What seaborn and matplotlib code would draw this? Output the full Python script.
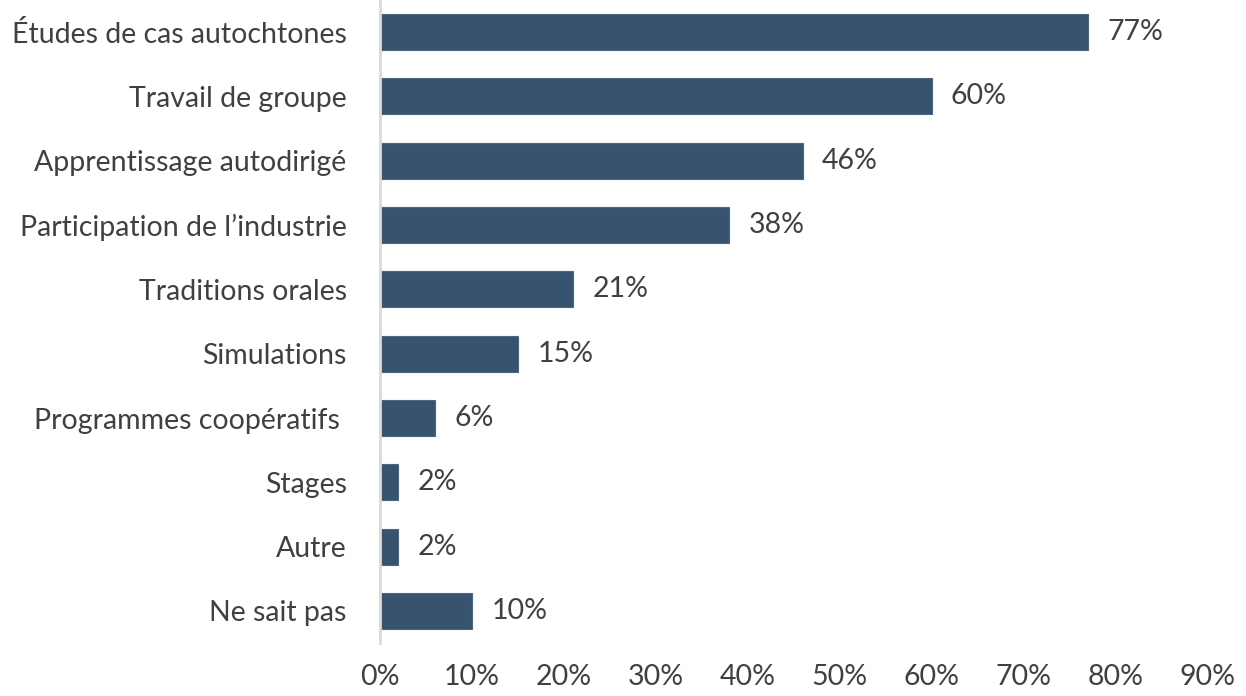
import matplotlib
matplotlib.use("Agg")
import matplotlib.pyplot as plt
import seaborn as sns
import pandas as pd

categories = [
    "Études de cas autochtones",
    "Travail de groupe",
    "Apprentissage autodirigé",
    "Participation de l\u2019industrie",
    "Traditions orales",
    "Simulations",
    "Programmes coopératifs ",
    "Stages",
    "Autre",
    "Ne sait pas",
]
values = [77, 60, 46, 38, 21, 15, 6, 2, 2, 10]
x_ticks = [0, 10, 20, 30, 40, 50, 60, 70, 80, 90]
x_tick_labels = [f"{t}%" for t in x_ticks]

df = pd.DataFrame({"categorie": categories, "valeur": values})

sns.set_theme(style="white")
plt.rcParams["font.family"] = ["Lato", "DejaVu Sans"]

text_color = "#404040"
bar_color = "#38536f"
fs = 20.5

fig = plt.figure(figsize=(12.46, 6.96), dpi=100)
ax = fig.add_axes([0.305, 0.076, 0.664, 0.924])

sns.barplot(data=df, x="valeur", y="categorie", orient="h", color=bar_color,
            width=0.56, saturation=1, edgecolor="#4d6782", linewidth=0.8, ax=ax)

for i, v in enumerate(values):
    ax.text(v + 2.1, i, f"{v}%", va="center", ha="left", fontsize=fs, color=text_color)

ax.set_xlim(0, 90)
ax.set_xticks(x_ticks)
ax.set_xticklabels(x_tick_labels, fontsize=fs, color=text_color)
ax.tick_params(axis="y", labelsize=fs, labelcolor=text_color, length=0, pad=24)
ax.tick_params(axis="x", length=0, pad=15)
ax.set_xlabel("")
ax.set_ylabel("")

for side in ["top", "right", "bottom"]:
    ax.spines[side].set_visible(False)
ax.spines["left"].set_color("#d9d9d9")
ax.spines["left"].set_linewidth(2)

fig.savefig("out.png", dpi=100, facecolor="white")
